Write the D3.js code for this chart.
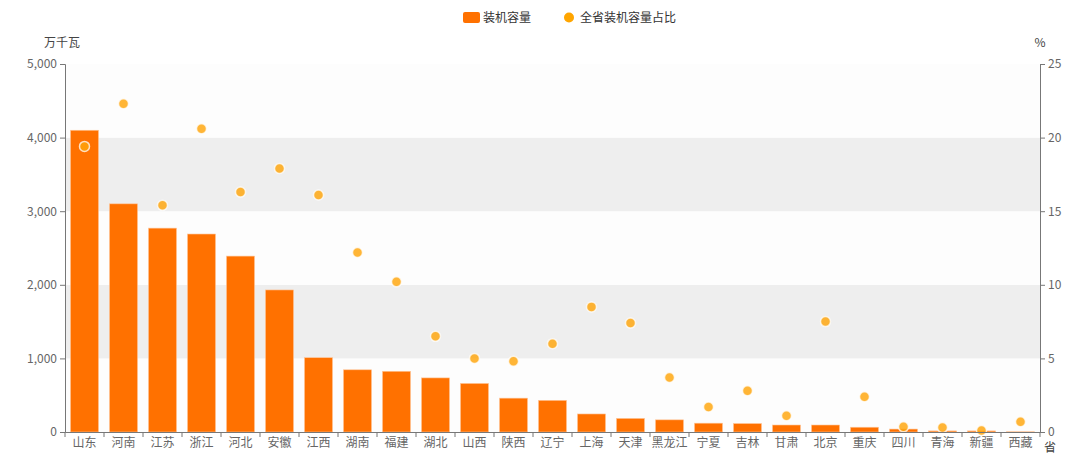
<!DOCTYPE html>
<html>
<head>
<meta charset="utf-8">
<script src="https://cdn.jsdelivr.net/npm/d3@7"></script>
<style>
  body { margin: 0; background: #fff; }
  svg text { font-family: "Noto Sans CJK SC", "Noto Sans", sans-serif; }
</style>
</head>
<body>
<svg id="chart"></svg>
<script>
// provinces, ordered by installed capacity
const provinces = ['山东','河南','江苏','浙江','河北','安徽','江西','湖南','福建','湖北','山西','陕西','辽宁',
  '上海','天津','黑龙江','宁夏','吉林','甘肃','北京','重庆','四川','青海','新疆','西藏'];
// 装机容量 (万千瓦)
const capacity = [4100, 3100, 2770, 2690, 2390, 1930, 1010, 845, 825, 735, 660, 460, 430,
  245, 185, 165, 120, 115, 95, 95, 65, 40, 15, 15, 3];
// 全省装机容量占比 (%)
const share = [19.4, 22.3, 15.4, 20.6, 16.3, 17.9, 16.1, 12.2, 10.2, 6.5, 5.0, 4.8, 6.0,
  8.5, 7.4, 3.7, 1.7, 2.8, 1.1, 7.5, 2.4, 0.35, 0.3, 0.1, 0.7];
const leftTicks = [0, 1000, 2000, 3000, 4000, 5000];
const rightTicks = [0, 5, 10, 15, 20, 25];

const W = 1080, H = 469;
const margin = {top: 64, right: 40, bottom: 37, left: 65};
const innerW = W - margin.left - margin.right;
const innerH = H - margin.top - margin.bottom;

const barColor = '#ff7100';
const dotColor = 'rgba(255,165,10,0.82)';
const axisColor = '#777';
const textColor = '#666';

const svg = d3.select('#chart').attr('width', W).attr('height', H);
const g = svg.append('g').attr('transform', `translate(${margin.left},${margin.top})`);

const x = d3.scaleBand().domain(provinces).range([0, innerW]).paddingInner(0.28).paddingOuter(0.14);
const xTick = d3.scaleBand().domain(provinces).range([0, innerW]);
const yL = d3.scaleLinear().domain([0, 5000]).range([innerH, 0]);
const yR = d3.scaleLinear().domain([0, 25]).range([innerH, 0]);

// split area bands
const bandColors = ['#fdfdfd', '#eeeeee'];
g.append('g').selectAll('rect')
  .data(leftTicks.slice(0, -1))
  .join('rect')
  .attr('x', 0)
  .attr('width', innerW)
  .attr('y', d => yL(d + 1000))
  .attr('height', d => yL(d) - yL(d + 1000))
  .attr('fill', (d, i) => bandColors[i % 2]);

// bars
g.append('g').selectAll('rect')
  .data(provinces)
  .join('rect')
  .attr('x', d => x(d))
  .attr('width', x.bandwidth())
  .attr('y', (d, i) => yL(capacity[i]))
  .attr('height', (d, i) => innerH - yL(capacity[i]))
  .attr('fill', barColor)
  .attr('stroke', '#ffc79a')
  .attr('stroke-width', 0.6);

// share dots
g.append('g').selectAll('circle')
  .data(provinces)
  .join('circle')
  .attr('cx', d => x(d) + x.bandwidth() / 2)
  .attr('cy', (d, i) => yR(share[i]))
  .attr('r', 5)
  .attr('fill', dotColor)
  .attr('stroke', 'rgba(255,255,255,0.75)')
  .attr('stroke-width', 1.5);

// axes
function styleAxis(sel) {
  sel.select('.domain').attr('stroke', axisColor);
  sel.selectAll('.tick line').attr('stroke', axisColor);
  sel.selectAll('.tick text').attr('fill', textColor).style('font-size', '12px');
}

g.append('g')
  .call(d3.axisLeft(yL).tickValues(leftTicks).tickFormat(d3.format(',')).tickSizeOuter(0).tickSize(5).tickPadding(3))
  .call(styleAxis);

g.append('g')
  .attr('transform', `translate(${innerW},0)`)
  .call(d3.axisRight(yR).tickValues(rightTicks).tickSizeOuter(0).tickSize(5).tickPadding(3))
  .call(styleAxis);

const xAxis = g.append('g')
  .attr('transform', `translate(0,${innerH})`)
  .call(d3.axisBottom(xTick).tickSize(0).tickPadding(6).tickSizeOuter(0))
  .call(styleAxis);
// boundary ticks between categories
xAxis.selectAll('.bound')
  .data(d3.range(provinces.length + 1))
  .join('line')
  .attr('x1', i => i * xTick.step())
  .attr('x2', i => i * xTick.step())
  .attr('y1', 0).attr('y2', 5)
  .attr('stroke', axisColor);

// axis names
g.append('text').attr('x', -3).attr('y', -17).attr('text-anchor', 'middle')
  .attr('fill', '#444').style('font-size', '12px').text('万千瓦');
g.append('text').attr('x', innerW).attr('y', -17).attr('text-anchor', 'middle')
  .attr('fill', '#444').style('font-size', '12px').text('%');
g.append('text').attr('x', innerW + 4).attr('y', innerH + 20)
  .attr('fill', '#444').style('font-size', '12px').text('省');

// legend
const legend = svg.append('g').attr('transform', 'translate(463,12)');
legend.append('rect').attr('x', 0).attr('y', 0).attr('width', 17).attr('height', 11)
  .attr('rx', 2).attr('fill', barColor);
legend.append('text').attr('x', 20).attr('y', 10).attr('fill', '#333')
  .style('font-size', '12px').text('装机容量');
legend.append('circle').attr('cx', 106).attr('cy', 5.5).attr('r', 5).attr('fill', '#ffa500');
legend.append('text').attr('x', 117).attr('y', 10).attr('fill', '#333')
  .style('font-size', '12px').text('全省装机容量占比');
</script>
</body>
</html>
